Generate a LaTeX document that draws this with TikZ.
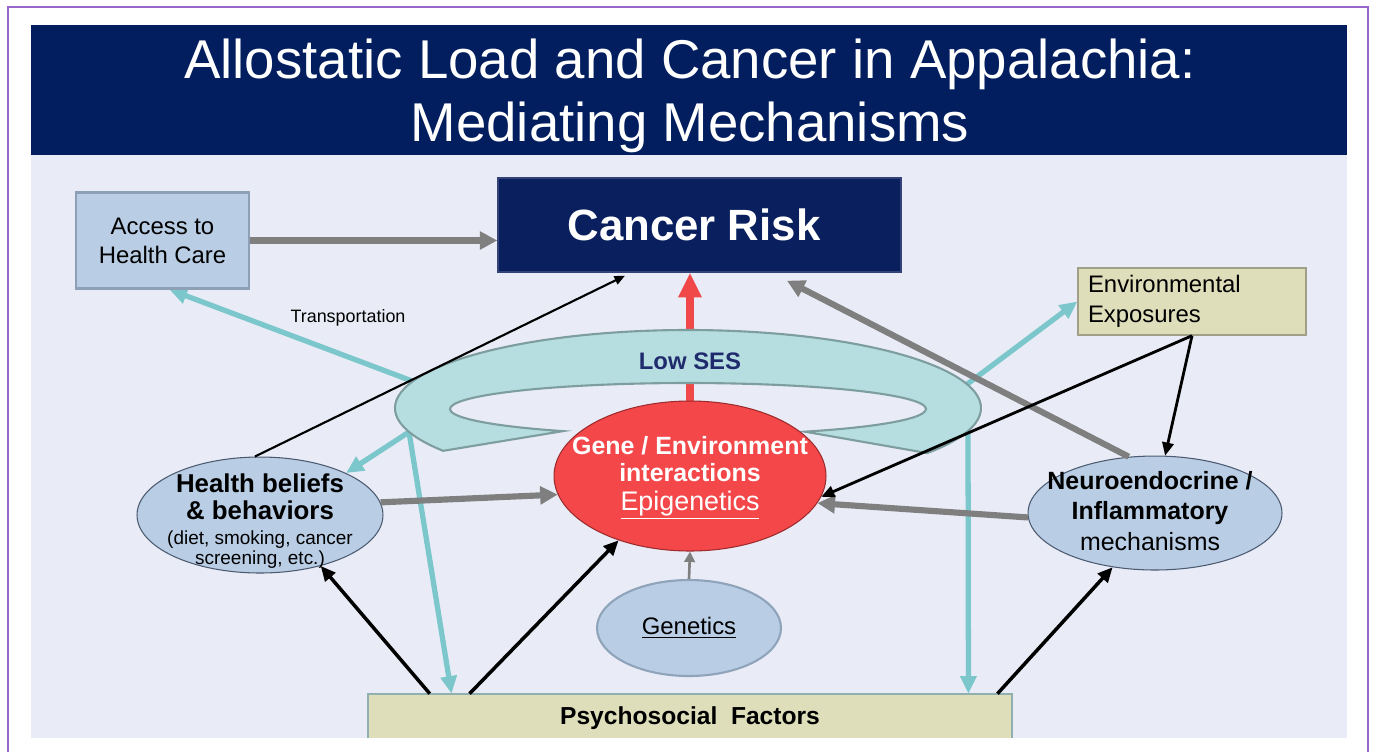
\documentclass[tikz,border=0pt]{standalone}
\usepackage{fontspec}
\setmainfont{Liberation Sans}
\usetikzlibrary{arrows.meta,shapes.geometric,calc}
\definecolor{navy}{HTML}{021E5E}
\definecolor{panel}{HTML}{E9ECF6}
\definecolor{purpleb}{HTML}{9966CC}
\definecolor{cancerfill}{HTML}{0A1F5E}
\definecolor{cancerdraw}{HTML}{33437A}
\definecolor{accfill}{HTML}{B9CDE5}
\definecolor{accdraw}{HTML}{8DA0B6}
\definecolor{khaki}{HTML}{DEDEBB}
\definecolor{envdraw}{HTML}{A0A089}
\definecolor{psychdraw}{HTML}{8FB0AE}
\definecolor{ellfill}{HTML}{B9CDE5}
\definecolor{hbdraw}{HTML}{4B5A70}
\definecolor{gendraw}{HTML}{8FA4BA}
\definecolor{genered}{HTML}{F4474A}
\definecolor{generedb}{HTML}{9E2B2B}
\definecolor{ringfill}{HTML}{B6DEE0}
\definecolor{ringdraw}{HTML}{7D9D9F}
\definecolor{sesblue}{HTML}{1F2B6D}
\definecolor{tealc}{HTML}{7CC7CB}
\definecolor{grayc}{HTML}{7F7F7F}
\definecolor{redarr}{HTML}{F04848}
\newcommand\fsz[2]{\fontsize{#1}{#2}\selectfont}
\pgfdeclarelayer{under}
\pgfsetlayers{under,main}
\begin{document}
\begin{tikzpicture}[x=0.02cm,y=-0.02cm,
  grayarr/.style={draw=grayc, line width=3.5pt, -{Triangle[length=10pt,width=10pt]}},
  tealarr/.style={draw=tealc, line width=3pt, -{Triangle[length=10pt,width=9pt]}},
  blkarr/.style={draw=black, line width=2pt, -{Triangle[length=8.5pt,width=7.5pt]}},
  envarr/.style={draw=black, line width=1.6pt, -{Triangle[length=7.5pt,width=6.5pt]}},
  thinarr/.style={draw=black, line width=1.2pt, -{Triangle[length=6pt,width=5pt]}},
  ell/.style={ellipse, fill=ellfill, inner sep=0pt},
  titletxt/.style={text=white, font=\fsz{31.1pt}{36pt}, anchor=base, inner sep=0pt}
]
\useasboundingbox (0,0) rectangle (1375,752);
\begin{pgfonlayer}{under}
\fill[white] (0,0) rectangle (1375,752);
\draw[purpleb, line width=1.1pt] (8,752) -- (8,7) -- (1368,7) -- (1368,752);
\fill[navy] (31,25) rectangle (1347,155);
\fill[panel] (31,155) rectangle (1347,738);
\end{pgfonlayer}

% title
\node[titletxt] (title1) at (690,78) {Allostatic Load and Cancer in Appalachia:};
\node[titletxt] (title2) at (690,141) {Mediating Mechanisms};

% boxes
\node[fill=cancerfill, draw=cancerdraw, line width=0.8pt, minimum width=8.06cm, minimum height=1.88cm, inner sep=0pt, text=white, font=\fsz{24.9pt}{28pt}\bfseries] (cancer) at (699.5,225) {\hspace*{-0.22cm}Cancer Risk};
\node[fill=accfill, draw=accdraw, line width=1.2pt, minimum width=3.46cm, minimum height=1.92cm, inner sep=0pt, align=center, font=\fsz{13.6pt}{16.4pt}] (access) at (162.5,240.5) {Access to\\Health Care};
\node[fill=khaki, draw=envdraw, line width=0.8pt, text width=4.16cm, inner xsep=0.2cm, inner ysep=0pt, minimum height=1.34cm, align=left, font=\fsz{13.6pt}{17pt}] (env) at (1192,301.5) {Environmental\\Exposures};
\node[fill=khaki, minimum width=12.88cm, minimum height=0.88cm, inner sep=0pt, text depth=0pt, font=\fsz{14pt}{16pt}\bfseries] (psych) at (690,716) {Psychosocial\ \ Factors};
\draw[psychdraw, line width=1.2pt] (psych.south west) -- (psych.north west) -- (psych.north east) -- (psych.south east);

% ellipses
\node[ell, fill=genered, draw=generedb, line width=0.6pt, minimum width=5.44cm, minimum height=3.0cm] (gene) at (690,476) {};
\node[align=center, text=white, inner sep=0pt, font=\fsz{14.2pt}{15.3pt}\bfseries] (genetext) at (690,478) {Gene / Environment\\interactions\\[1.1pt]\mdseries\fsz{15.3pt}{15.3pt}\underline{Epigenetics}};
\node[ell, draw=hbdraw, line width=0.6pt, minimum width=4.92cm, minimum height=2.32cm] (health) at (260,515) {};
\node[align=center, inner sep=0pt, font=\fsz{10.8pt}{11pt}] (healthtext) at (260,521) {\bfseries\fsz{14.7pt}{11pt}Health beliefs\\[4.3pt]\bfseries\fsz{14.7pt}{11pt}\& behaviors\\[3.2pt]\mdseries\fsz{10.8pt}{11pt}(diet, smoking, cancer\\[0.3pt]\mdseries\fsz{10.8pt}{11pt}screening, etc.)};
\node[ell, draw=hbdraw, line width=0.6pt, minimum width=5.08cm, minimum height=2.28cm] (neuro) at (1155,513) {};
\node[align=center, inner sep=0pt, font=\fsz{14.2pt}{17.6pt}] (neurotext) at (1150,511) {\bfseries Neuroendocrine /\\\bfseries Inflammatory\\mechanisms};
\node[ell, draw=gendraw, line width=1.2pt, minimum width=3.68cm, minimum height=1.92cm, font=\fsz{13.6pt}{16pt}] (genetics) at (689,628) {\underline{Genetics}};

% ring points and psych points
\coordinate (rT) at (420,384);
\coordinate (rH) at (409,432);
\coordinate (rE) at (962,388);
\coordinate (rP) at (968,425);
\coordinate (p1) at ($(psych.north west)!0.0963!(psych.north east)$);
\coordinate (p2) at ($(psych.north west)!0.130!(psych.north east)$);
\coordinate (p3) at ($(psych.north west)!0.158!(psych.north east)$);
\coordinate (p4) at ($(psych.north west)!0.932!(psych.north east)$);
\coordinate (p5) at ($(psych.north west)!0.977!(psych.north east)$);
\coordinate (cA) at ([xshift=-1.49cm,yshift=-0.06cm]cancer.south);
\coordinate (cB) at ([xshift=1.75cm,yshift=-0.16cm]cancer.south);

\begin{pgfonlayer}{under}
\draw[redarr, line width=4.5pt, -{Triangle[length=14pt,width=12.5pt]}] (gene.north) -- (gene.north |- cancer.south);
\draw[tealarr] (rT) -- ($(access.south west)!0.54!(access.south east)$);
\draw[tealarr] (rE) -- (env.west);
\draw[tealarr] (rH) -- (health.26);
\draw[tealarr] (rH) -- (p2);
\draw[tealarr] (rP) -- (p4);
\filldraw[fill=ringfill, draw=ringdraw, line width=1.2pt]
  ($(688,408)+(146.7:293 and 78)$) arc[start angle=146.7, end angle=395.3, x radius=293, y radius=78]
  -- ($(688,409)+(60.6:238 and 26)$) arc[start angle=60.6, end angle=-238.3, x radius=238, y radius=26] -- cycle;
\end{pgfonlayer}

\node[font=\fsz{13.6pt}{16pt}\bfseries, text=sesblue, inner sep=0pt] (lowses) at (690,361) {Low SES};
\node[font=\fsz{10.2pt}{12pt}, inner sep=0pt] (transp) at (348,318) {Transportation};

% connectors
\draw[grayarr] (access.east) -- (access.east -| cancer.west);
\draw[grayarr] (neuro.115) -- (cB);
\draw[thinarr] (health.95) -- (cA);
\draw[grayarr] (health.6) -- (gene.188);
\draw[grayarr] (neuro.182) -- (gene.-12);
\draw[envarr] (env.south) -- (neuro.80);
\draw[envarr] (env.south) -- (gene.-9.6);
\draw[blkarr] (p1) -- (health.-40);
\draw[blkarr] (p3) -- (gene.222);
\draw[blkarr] (p5) -- (neuro.232);
\draw[draw=grayc, line width=1.5pt, -{Triangle[length=6pt,width=6pt]}] (genetics.north) -- (gene.south);
\end{tikzpicture}
\end{document}
